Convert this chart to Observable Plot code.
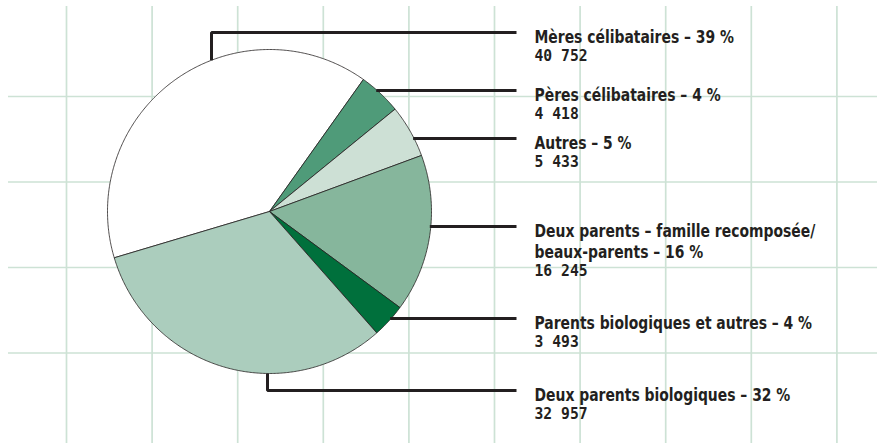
<!DOCTYPE html>
<html>
<head>
<meta charset="utf-8">
<script src="https://cdn.jsdelivr.net/npm/d3@7"></script>
<script src="https://cdn.jsdelivr.net/npm/@observablehq/plot@0.6"></script>
<style>
  html, body { margin: 0; padding: 0; background: #ffffff; }
  #chart svg { display: block; }
</style>
</head>
<body>
<div id="chart"></div>
<script>
// ---- Data ----
const categories = [
  "Mères célibataires",
  "Pères célibataires",
  "Autres",
  "Deux parents – famille recomposée/\nbeaux-parents",
  "Parents biologiques et autres",
  "Deux parents biologiques"
];
const counts = [40752, 4418, 5433, 16245, 3493, 32957];
const percentLabels = ["39 %", "4 %", "5 %", "16 %", "4 %", "32 %"];
const countLabels = ["40 752", "4 418", "5 433", "16 245", "3 493", "32 957"];

// ---- Styling / layout (kept apart from data) ----
const sliceColors = ["#ffffff", "#4f9b79", "#cde0d5", "#86b69c", "#00703c", "#abcdbd"];
const W = 877, H = 443;
const cx = 269, cy = 211, R = 162;
const startDeg = -106.6;
const labelY = [32, 90, 138, 226, 318, 390];   // leader / label rows
const elbowX = [211, null, null, null, null, 267]; // vertical leg for leaders
const leaderEndX = 516, textX = 534;
const lineGap = 21;
const ink = "#231f20";
const gridColor = "#cde2d5";
const titleSize = 17, numberSize = 15.5;
const titleCondense = 0.91, numberCondense = 0.95;

const rows = categories.map((c, i) => ({
  category: c,
  count: counts[i],
  title: c + " – " + percentLabels[i],
  number: countLabels[i],
  nLines: c.split("\n").length
}));

// pie slices as polygons in pixel space via d3.pie
const pie = d3.pie().sort(null).value(d => d.count)
  .startAngle(startDeg * Math.PI / 180)
  .endAngle((startDeg + 360) * Math.PI / 180);
const arcs = pie(rows);
const slicePts = arcs.flatMap(a => {
  const cat = a.data.category;
  const n = Math.max(2, Math.ceil((a.endAngle - a.startAngle) / (Math.PI / 360)));
  const pts = [{category: cat, x: cx, y: cy}];
  for (let i = 0; i <= n; i++) {
    const t = a.startAngle + (a.endAngle - a.startAngle) * i / n;
    pts.push({category: cat, x: cx + R * Math.sin(t), y: cy - R * Math.cos(t)});
  }
  pts.push({category: cat, x: cx, y: cy});
  return pts;
});

// leader lines
const leaderPts = rows.flatMap((d, i) => {
  const y = labelY[i];
  const ex = elbowX[i];
  if (ex != null) {
    const up = y < cy;
    const h = Math.sqrt(R * R - (ex - cx) ** 2);
    const sy = up ? cy - h : cy + h;
    return [
      {category: d.category, x: ex, y: sy},
      {category: d.category, x: ex, y: y},
      {category: d.category, x: leaderEndX, y: y}
    ];
  }
  const sx = cx + Math.sqrt(Math.max(0, R * R - (y - cy) ** 2));
  return [
    {category: d.category, x: sx - 1, y: y},
    {category: d.category, x: leaderEndX, y: y}
  ];
});

const gridX = d3.range(10).map(k => 66 + k * 85.6);
const gridY = d3.range(4).map(k => 96 + k * 85.5);

const titleFont = "'DejaVu Sans Condensed', 'DejaVu Sans', sans-serif";
const numberFont = "'DejaVu Sans Mono', 'Liberation Mono', monospace";

const chart = Plot.plot({
  width: W,
  height: H,
  margin: 0,
  x: {type: "linear", domain: [0, W], range: [0, W], axis: null},
  y: {type: "linear", domain: [0, H], range: [0, H], axis: null},
  color: {domain: categories, range: sliceColors},
  style: {background: "#ffffff"},
  marks: [
    Plot.ruleX(gridX, {x: d => d, y1: 6, y2: H, stroke: gridColor, strokeWidth: 1.7}),
    Plot.ruleY(gridY, {y: d => d, x1: 8, x2: W, stroke: gridColor, strokeWidth: 1.7}),
    Plot.line(slicePts, {
      x: "x", y: "y", z: "category", fill: "category",
      stroke: ink, strokeWidth: 0.8, strokeLinejoin: "round", curve: "linear"
    }),
    Plot.line(leaderPts, {
      x: "x", y: "y", z: "category",
      stroke: ink, strokeWidth: 3, strokeLinejoin: "miter", strokeLinecap: "butt"
    }),
    Plot.text(rows, {
      x: () => textX, y: (d, i) => labelY[i], text: "title",
      textAnchor: "start", lineAnchor: "top", dy: -4.1,
      fontSize: titleSize, lineHeight: lineGap / titleSize,
      fontWeight: "bold", fontFamily: titleFont, fill: ink
    }),
    Plot.text(rows, {
      x: () => textX, y: (d, i) => labelY[i] + d.nLines * lineGap, text: "number",
      textAnchor: "start", lineAnchor: "top", dy: -3.5,
      fontSize: numberSize, fontWeight: "bold", fontFamily: numberFont, fill: ink
    })
  ]
});

document.getElementById("chart").appendChild(chart);

// horizontal condensing of label type (style only), scaled about each label's own anchor
const textGroups = d3.select(chart).selectAll('g[aria-label="text"]').nodes();
textGroups.forEach((g, gi) => {
  const k = gi === 0 ? titleCondense : numberCondense;
  d3.select(g).selectAll("text").each(function() {
    const t = this.getAttribute("transform");
    if (t && /translate/.test(t)) {
      this.setAttribute("transform", t + ` scale(${k},1)`);
    }
  });
});
</script>
</body>
</html>
